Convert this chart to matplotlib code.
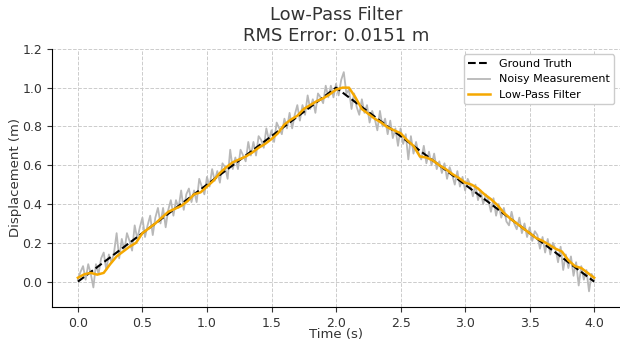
import numpy as np
import matplotlib
matplotlib.use('Agg')
import matplotlib.pyplot as plt

# Ground truth: triangle up to 1 m at t = 2 s, back down at t = 4 s
truth_t = [0.0, 2.0, 4.0]
truth_y = [0.0, 1.0, 0.0]

noisy_y = [
    0.01, 0.05, 0.08, 0.01, 0.09, 0.04, -0.03, 0.09, 0.04, 0.12,
    0.15, 0.06, 0.14, 0.10, 0.15, 0.25, 0.12, 0.22, 0.16, 0.25,
    0.21, 0.16, 0.29, 0.22, 0.28, 0.33, 0.23, 0.29, 0.34, 0.24,
    0.33, 0.38, 0.30, 0.38, 0.28, 0.37, 0.42, 0.34, 0.42, 0.38,
    0.47, 0.37, 0.45, 0.48, 0.41, 0.47, 0.41, 0.53, 0.49, 0.45,
    0.54, 0.49, 0.58, 0.52, 0.57, 0.51, 0.61, 0.59, 0.53, 0.68,
    0.58, 0.64, 0.58, 0.68, 0.65, 0.62, 0.72, 0.65, 0.72, 0.65,
    0.75, 0.73, 0.69, 0.79, 0.73, 0.78, 0.72, 0.82, 0.79, 0.76,
    0.84, 0.79, 0.87, 0.79, 0.86, 0.91, 0.83, 0.91, 0.86, 0.96,
    0.89, 0.94, 0.87, 0.97, 0.95, 0.92, 1.01, 0.95, 1.01, 0.95,
    1.02, 0.96, 1.04, 1.08, 0.97, 0.99, 0.89, 0.97, 0.90, 0.86,
    0.94, 0.87, 0.91, 0.82, 0.88, 0.84, 0.78, 0.88, 0.80, 0.84,
    0.76, 0.83, 0.74, 0.79, 0.70, 0.79, 0.71, 0.76, 0.63, 0.75,
    0.66, 0.72, 0.66, 0.63, 0.70, 0.61, 0.67, 0.60, 0.66, 0.58,
    0.62, 0.56, 0.61, 0.53, 0.59, 0.55, 0.50, 0.57, 0.49, 0.54,
    0.47, 0.53, 0.50, 0.44, 0.50, 0.42, 0.47, 0.40, 0.45, 0.42,
    0.36, 0.43, 0.34, 0.40, 0.33, 0.38, 0.31, 0.29, 0.36, 0.30,
    0.27, 0.33, 0.25, 0.30, 0.23, 0.28, 0.21, 0.26, 0.24, 0.17,
    0.23, 0.15, 0.22, 0.14, 0.20, 0.17, 0.10, 0.18, 0.06, 0.14,
    0.07, 0.13, 0.03, 0.10, -0.02, 0.08, 0.01, 0.06, -0.05, 0.04,
    0.01,
]
noisy_t = np.linspace(0, 4, len(noisy_y))

# Low-pass filter output, one sample every 0.05 s
filt_y = [
    0.02, 0.038, 0.045, 0.036, 0.045, 0.09, 0.13, 0.155, 0.18, 0.20,
    0.25, 0.275, 0.30, 0.33, 0.36, 0.375, 0.39, 0.415, 0.45, 0.46,
    0.49, 0.52, 0.56, 0.59, 0.615, 0.63, 0.645, 0.665, 0.69, 0.71,
    0.735, 0.765, 0.81, 0.835, 0.855, 0.89, 0.91, 0.93, 0.945, 0.965,
    0.99, 1.0, 1.0, 0.95, 0.89, 0.865, 0.84, 0.82, 0.795, 0.78,
    0.765, 0.73, 0.70, 0.645, 0.64, 0.625, 0.60, 0.58, 0.555, 0.535,
    0.51, 0.50, 0.48, 0.45, 0.425, 0.395, 0.355, 0.325, 0.30, 0.275,
    0.25, 0.225, 0.21, 0.19, 0.17, 0.155, 0.11, 0.08, 0.07, 0.045,
    0.02,
]
filt_t = np.linspace(0, 4, len(filt_y))

rms_error = 0.0151

fig = plt.figure(figsize=(6.2, 3.44), dpi=100)
ax = fig.add_axes([0.084, 0.108, 0.916, 0.75])

ax.plot(truth_t, truth_y, 'k--', lw=1.5, label='Ground Truth', zorder=3)
ax.plot(noisy_t, noisy_y, color='#b8b8b8', lw=1.3, label='Noisy Measurement', zorder=2)
ax.plot(filt_t, filt_y, color='#f5a800', lw=1.8, label='Low-Pass Filter', zorder=4)

ax.set_xlim(-0.2, 4.2)
ax.set_ylim(-0.13, 1.2)
ax.set_xticks(np.arange(0, 4.01, 0.5))
ax.set_yticks(np.arange(0, 1.21, 0.2))

ax.set_title('Low-Pass Filter\nRMS Error: %.4f m' % rms_error, fontsize=13, color='#333333')
ax.set_xlabel('Time (s)', fontsize=9.5, color='#333333', labelpad=-1)
ax.set_ylabel('Displacement (m)', fontsize=9.5, color='#333333', labelpad=0)
ax.tick_params(labelsize=9, colors='#333333')

ax.grid(True, linestyle='--', color='#cccccc', lw=0.7)
ax.spines['top'].set_visible(False)
ax.spines['right'].set_visible(False)

ax.legend(loc='upper right', fontsize=8, framealpha=1)

fig.savefig('out.png', dpi=100)
